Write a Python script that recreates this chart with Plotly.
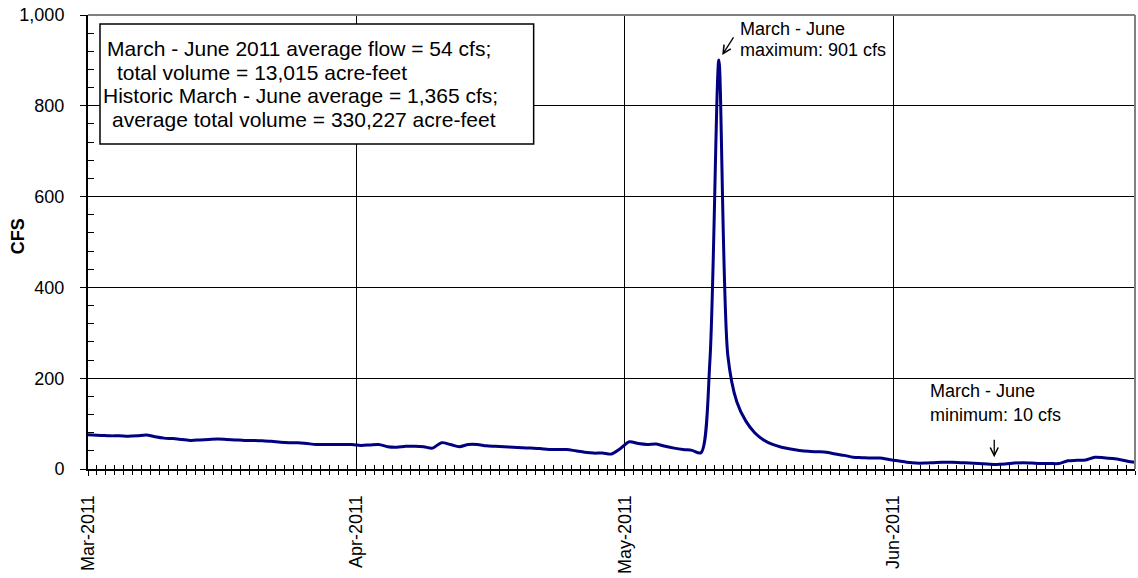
import plotly.graph_objects as go

# Daily mean flow (cfs), 1 Mar 2011 onward; day positions are mid-day
flow_cfs = [
    76, 75, 74, 73, 73, 72, 73, 75, 71, 68,
    67, 65, 63, 64, 65, 66, 65, 64, 63, 63,
    62, 61, 59, 58, 58, 56, 54, 54, 54, 54,
    54, 52, 53, 54, 49, 48, 50, 50, 49, 46,
    58, 54, 49, 54, 54, 51, 50, 49, 48, 47,
    46, 45, 43, 43, 43, 40, 37, 35, 35, 33,
    45, 60, 56, 54, 55, 50, 46, 43, 41, 36,
    240, 901, 250, 148, 106, 80, 64, 54, 48, 44,
    41, 39, 38, 37, 33, 30, 26, 25, 24, 24,
    21, 18, 15, 13, 13, 14, 15, 15, 14, 13,
    12, 11, 10, 11, 13, 14, 13, 12, 12, 12,
    18, 19, 20, 26, 25, 23, 20, 16, 14,
]
day = [i - 0.5 for i in range(len(flow_cfs))]

month_ticks = [0, 30, 60, 90]
month_labels = ["Mar-2011", "Apr-2011", "May-2011", "Jun-2011"]
y_ticks = [0, 200, 400, 600, 800, 1000]

box_lines = [
    "March - June 2011 average flow = 54 cfs;",
    "total volume = 13,015 acre-feet",
    "Historic March - June average = 1,365 cfs;",
    "average total volume = 330,227 acre-feet",
]

FONT = "Liberation Sans, Arial, sans-serif"
NAVY = "#000080"

fig = go.Figure()
fig.add_trace(go.Scatter(
    x=day, y=flow_cfs, mode="lines",
    line=dict(color=NAVY, width=3, shape="spline", smoothing=0.8),
    showlegend=False, hoverinfo="x+y",
))
# helper trace for the inside half of the crossing x ticks
fig.add_trace(go.Scatter(
    x=[0], y=[0], xaxis="x2", mode="markers",
    marker=dict(opacity=0), showlegend=False, hoverinfo="skip",
))

fig.update_layout(
    width=1138, height=578, autosize=False,
    margin=dict(l=88, r=3, t=15, b=109),
    paper_bgcolor="white", plot_bgcolor="white",
    font=dict(family=FONT, size=18, color="black"),
    xaxis=dict(
        range=[0, 117], tickmode="array", tickvals=month_ticks, ticktext=month_labels,
        tickangle=-90, ticks="outside", ticklen=5, tickwidth=1, tickcolor="black",
        minor=dict(dtick=1, tick0=0, ticks="outside", ticklen=4, tickwidth=1,
                   tickcolor="black", showgrid=False),
        showgrid=True, gridcolor="black", gridwidth=1,
        showline=True, linecolor="black", linewidth=2, zeroline=False,
        tickfont=dict(size=18, family=FONT, color="black"),
        ticklabelstandoff=12,
    ),
    xaxis2=dict(
        overlaying="x", matches="x", anchor="y", side="bottom",
        tickmode="array", tickvals=month_ticks, showticklabels=False,
        ticks="inside", ticklen=5, tickwidth=1, tickcolor="black",
        minor=dict(dtick=1, tick0=0, ticks="inside", ticklen=4, tickwidth=1,
                   tickcolor="black", showgrid=False),
        showgrid=False, showline=False, zeroline=False,
    ),
    yaxis=dict(
        range=[0, 1000], tickmode="array", tickvals=y_ticks, tickformat=",",
        ticks="outside", ticklen=6, tickwidth=1, tickcolor="black",
        minor=dict(dtick=40, tick0=0, ticks="inside", ticklen=6, tickwidth=1,
                   tickcolor="black", showgrid=False),
        showgrid=True, gridcolor="black", gridwidth=1,
        showline=True, linecolor="black", linewidth=2, zeroline=False,
        tickfont=dict(size=18, family=FONT, color="black"),
        ticklabelstandoff=12,
    ),
)

# gray top and right borders of the plot area
fig.add_shape(type="line", xref="paper", yref="paper", x0=0, x1=1, y0=1, y1=1,
              line=dict(color="#808080", width=2), layer="above")
fig.add_shape(type="line", xref="paper", yref="paper", x0=1, x1=1, y0=0, y1=1,
              line=dict(color="#808080", width=2), layer="above")

# summary box
fig.add_shape(type="rect", xref="x", yref="y", x0=1.34, x1=49.8, y0=716, y1=980,
              line=dict(color="black", width=1.5), fillcolor="white", layer="above")
box_x = [1.9, 3.0, 1.45, 2.46]
box_y = [927, 874, 822, 769]
for txt, bx, by in zip(box_lines, box_x, box_y):
    fig.add_annotation(x=bx, y=by, xref="x", yref="y", text=txt, showarrow=False,
                       xanchor="left", yanchor="middle",
                       font=dict(size=21, family=FONT, color="black"))

# maximum annotation
fig.add_annotation(x=72.6, y=969, xref="x", yref="y", text="March - June",
                   showarrow=False, xanchor="left", yanchor="middle",
                   font=dict(size=18, family=FONT, color="black"))
fig.add_annotation(x=72.6, y=923, xref="x", yref="y", text="maximum: 901 cfs",
                   showarrow=False, xanchor="left", yanchor="middle",
                   font=dict(size=18, family=FONT, color="black"))
fig.add_annotation(x=70.87, y=912, ax=72.24, ay=954, xref="x", yref="y",
                   axref="x", ayref="y", text="", showarrow=True,
                   arrowhead=5, arrowsize=1.2, arrowwidth=1.3, arrowcolor="black")

# minimum annotation
fig.add_annotation(x=93.9, y=172, xref="x", yref="y", text="March - June",
                   showarrow=False, xanchor="left", yanchor="middle",
                   font=dict(size=18, family=FONT, color="black"))
fig.add_annotation(x=93.9, y=119, xref="x", yref="y", text="minimum: 10 cfs",
                   showarrow=False, xanchor="left", yanchor="middle",
                   font=dict(size=18, family=FONT, color="black"))
fig.add_annotation(x=101.27, y=26, ax=101.27, ay=68, xref="x", yref="y",
                   axref="x", ayref="y", text="", showarrow=True,
                   arrowhead=5, arrowsize=1.2, arrowwidth=1.3, arrowcolor="black")

# y-axis title
fig.add_annotation(x=-0.0672, y=0.512, xref="paper", yref="paper", text="<b>CFS</b>",
                   textangle=-90, showarrow=False, xanchor="center", yanchor="middle",
                   font=dict(size=18, family=FONT, color="black"))

fig.write_html("out.html")
